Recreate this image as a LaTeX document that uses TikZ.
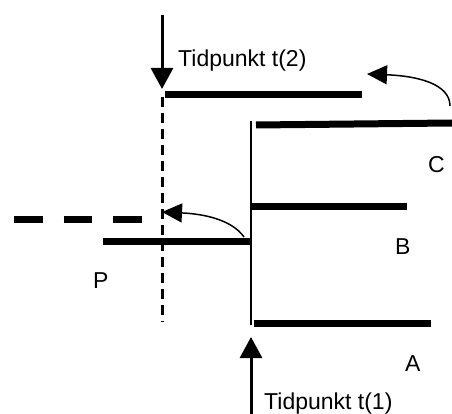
\documentclass[tikz,border=0pt]{standalone}
\usepackage{fontspec}
\setmainfont{Liberation Sans}
\usetikzlibrary{arrows.meta}
\begin{document}
\begin{tikzpicture}[x=1pt,y=-1pt,
  bar/.style={line width=7pt},
  timearrow/.style={line width=3pt,-{Triangle[length=21pt,width=22pt]}},
  movearrow/.style={line width=1.5pt,-{Triangle[length=20pt,width=19pt]}},
  lbl/.style={inner sep=0pt,font=\fontsize{23}{27}\selectfont,anchor=base west}]
\useasboundingbox (0,0) rectangle (452,414);
% coordinates
\coordinate (t2s) at (162,15);
\coordinate (t2e) at (162,89);
\coordinate (t1s) at (251,414);
\coordinate (t1e) at (251,337);
\coordinate (dvs) at (162,97);
\coordinate (dve) at (162,322);
\coordinate (vs) at (250.5,121);
\coordinate (ve) at (250.5,325);
\coordinate (n2a) at (165,94.5);
\coordinate (n2b) at (362,94.5);
\coordinate (ca) at (256,125);
\coordinate (cb) at (452,123);
\coordinate (ba) at (252,206.5);
\coordinate (bb) at (407,206.5);
\coordinate (pa) at (103,241);
\coordinate (pb) at (250,241);
\coordinate (aa) at (254,323);
\coordinate (ab) at (431,323);
\coordinate (da) at (14,219);
\coordinate (db) at (142,219);
\coordinate (c1s) at (450,106);
\coordinate (c1e) at (367,74);
\coordinate (c2s) at (244,237);
\coordinate (c2e) at (162,212);
% lines
\draw[timearrow] (t2s) -- (t2e);
\draw[timearrow] (t1s) -- (t1e);
\draw[line width=3pt,dash pattern=on 10pt off 6pt] (dvs) -- (dve);
\draw[line width=2pt] (vs) -- (ve);
\draw[bar] (n2a) -- (n2b);
\draw[bar] (ca) -- (cb);
\draw[bar] (ba) -- (bb);
\draw[bar] (pa) -- (pb);
\draw[bar] (aa) -- (ab);
\draw[bar,dash pattern=on 28.5pt off 21pt] (da) -- (db);
\draw[movearrow] (c1s) .. controls (450,84) and (418,76) .. (c1e);
\draw[movearrow] (c2s) .. controls (232,220) and (205,214) .. (c2e);
% labels
\node[lbl] (lt2) at (178,67) {Tidpunkt t(2)};
\node[lbl] (lt1) at (264,409) {Tidpunkt t(1)};
\node[lbl] (lC) at (428,173) {C};
\node[lbl] (lB) at (395,254) {B};
\node[lbl] (lP) at (93,288) {P};
\node[lbl] (lA) at (405,371) {A};
\end{tikzpicture}
\end{document}
